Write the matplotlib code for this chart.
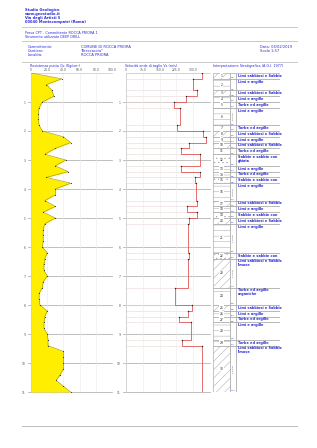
import matplotlib
matplotlib.use("Agg")
import matplotlib.pyplot as plt
from matplotlib.patches import Rectangle

# --- data ---
qc_depth = [0.0, 0.2, 0.4, 0.6, 0.8, 1.0, 1.2, 1.4, 1.6, 1.8, 2.0, 2.2, 2.4, 2.6,
            2.8, 3.0, 3.2, 3.4, 3.6, 3.8, 4.0, 4.2, 4.4, 4.6, 4.8, 5.0, 5.2, 5.4,
            5.6, 5.8, 6.0, 6.2, 6.4, 6.6, 6.8, 7.0, 7.2, 7.4, 7.6, 7.8, 8.0, 8.2,
            8.4, 8.6, 8.8, 9.0, 9.2, 9.4, 9.6, 9.8, 10.0, 10.2, 10.4, 10.6, 10.8, 11.0]
qc_values = [0, 38, 19, 26, 28, 14, 10, 9, 9, 10, 14, 40, 49, 30,
             17, 43, 30, 46, 19, 49, 30, 30, 17, 30, 15, 30, 17, 15,
             15, 15, 14, 20, 17, 16, 16, 20, 15, 14, 10, 10, 11, 20,
             17, 16, 16, 20, 21, 21, 40, 40, 40, 40, 36, 31, 40, 49]

layer_top = [0.0, 0.2, 0.6, 0.8, 1.0, 1.2, 1.8, 2.0, 2.2, 2.4, 2.6, 2.8, 3.2, 3.4, 3.6,
             3.8, 4.4, 4.6, 4.8, 5.0, 5.2, 6.2, 6.4, 7.4, 8.0, 8.2, 8.4, 8.6, 9.2, 9.4]
layer_bottom = layer_top[1:] + [11.0]
vs_values = [339, 299, 317, 268, 214, 241, 228, 344, 357, 281, 246, 330, 246, 330, 308,
             312, 317, 272, 317, 281, 277, 281, 277, 219, 295, 277, 237, 290, 250, 339]

LS = "Limi sabbiosi e Sabbie\nlimose"
LA = "Limi e argille"
TO = "Torbe ed argille\norganiche"
SG = "Sabbie e sabbie con\nghiaia"
layer_soil = [LS, LA, LS, LA, TO, LA, TO, LS, LA, LS, TO, SG, LA, TO, SG,
              LA, LS, LA, SG, LS, LA, SG, LS, TO, LS, LA, TO, LA, TO, LS]

qc_ticks = [0, 20, 40, 60, 80, 100]
qc_ticklabels = ["0", "20.0", "40.0", "60.0", "80.0", "100.0"]
vs_ticks = [0, 75, 150, 225, 300]
vs_ticklabels = ["0", "75.0", "150.0", "225.0", "300.0"]
depth_ticks = list(range(1, 12))

header_lines = ["Studio Geologico", "www.geostudio.it", "Via degli Artisti 5",
                "00040 Montecompatri (Roma)"]

BLUE = "#2b2bd6"
GRID = "#b4b4b4"
HATCH = {LS: "////", LA: "---", TO: "-", SG: "...."}

W, H = 317, 448
plt.rcParams["font.family"] = ["DejaVu Sans"]
plt.rcParams["hatch.linewidth"] = 0.3

fig = plt.figure(figsize=(W / 100, H / 100), dpi=100)
fig.patch.set_facecolor("white")

page = fig.add_axes([0, 0, 1, 1])
page.set_xlim(0, W)
page.set_ylim(H, 0)
page.axis("off")

# header
for i, line in enumerate(header_lines):
    page.text(25, 10 + 4 * i, line, fontsize=2.6, color=BLUE, fontweight="bold", va="center")
for y in (27, 41, 62):
    page.plot([22, 297], [y, y], color=GRID, lw=0.5)
page.plot([22, 297], [426, 426], color=GRID, lw=0.6)
page.text(25, 33, "Prova CPT - Committente ROCCA PRIORA 1", fontsize=2.4, color=BLUE, va="center")
page.text(25, 36.5, "Strumento utilizzato DEEP DRILL", fontsize=2.4, color=BLUE, va="center")
for i, (k, v) in enumerate([("Committente:", "COMUNE DI ROCCA PRIORA"),
                            ("Cantiere:", "\"Breccaccia\""),
                            ("Località:", "ROCCA PRIORA")]):
    page.text(28, 47 + 4 * i, k, fontsize=2.6, color=BLUE, va="center")
    page.text(81, 47 + 4 * i, v, fontsize=2.6, color=BLUE, va="center")
page.text(260, 47, "Data: 06/02/2019", fontsize=2.6, color=BLUE, va="center")
page.text(260, 51, "Scala 1:57", fontsize=2.6, color=BLUE, va="center")
page.text(30, 66, "Resistenza punta Qc (Kg/cm²)", fontsize=2.4, color=BLUE, va="center")
page.text(125, 66, "Velocità onde di taglio Vs (m/s)", fontsize=2.4, color=BLUE, va="center")
page.text(213, 66, "Interpretazione Stratigrafica (A.G.I. 1977)", fontsize=2.4, color=BLUE, va="center")


def panel(x0, x1, y0=73, y1=392):
    return fig.add_axes([x0 / W, 1 - y1 / H, (x1 - x0) / W, (y1 - y0) / H])


def style_panel(ax, xmax, ticks, labels):
    ax.set_xlim(0, xmax)
    ax.set_ylim(11, 0)
    ax.xaxis.tick_top()
    ax.set_xticks(ticks)
    ax.set_xticklabels(labels, fontsize=2.2, color="#555555")
    ax.set_yticks(depth_ticks)
    ax.set_yticklabels([str(d) for d in depth_ticks], fontsize=2.2, color="#555555")
    ax.tick_params(length=0, pad=1)
    ax.tick_params(axis="y", pad=4)
    for s in ("right", "bottom"):
        ax.spines[s].set_visible(False)
    for s in ("left", "top"):
        ax.spines[s].set_color("#c8c8c8")
        ax.spines[s].set_linewidth(0.5)
    ax.grid(axis="x", color="#ebebeb", lw=0.4)
    for d in depth_ticks:
        ax.axhline(d, xmin=-0.04, xmax=1.0, color=GRID, lw=0.6, clip_on=False, zorder=1)


# Qc panel
ax1 = panel(31, 112)
style_panel(ax1, 100, qc_ticks, qc_ticklabels)
ax1.fill_betweenx(qc_depth, 0, qc_values, color="#ffee00", zorder=2, lw=0)
ax1.plot(qc_values, qc_depth, color="#9a9400", lw=0.4, zorder=3)
ax1.plot(qc_values[1:], qc_depth[1:], "o", color="#333333", ms=0.8, mew=0, zorder=4)

# Vs panel
ax2 = panel(126, 210)
style_panel(ax2, 375, vs_ticks, vs_ticklabels)
step_x, step_y = [], []
for top, bot, v in zip(layer_top, layer_bottom, vs_values):
    step_x += [v, v]
    step_y += [top, bot]
    ax2.plot([0, v], [top, top], color="#ead6d6", lw=0.4, zorder=1)
ax2.plot(step_x, step_y, color="#e25656", lw=0.6, zorder=3)
ax2.plot(vs_values, layer_top, "o", color="#222222", ms=1.0, mew=0, zorder=4)

# stratigraphy table
ax3 = panel(213, 280)
ax3.set_xlim(0, 67)
ax3.set_ylim(11, 0)
ax3.axis("off")
for i, (top, bot, soil) in enumerate(zip(layer_top, layer_bottom, layer_soil)):
    th = bot - top
    ax3.add_patch(Rectangle((0, top), 17, th, facecolor="white", edgecolor="#9a9a9a",
                            hatch=HATCH[soil], lw=0.4))
    ax3.add_patch(Rectangle((17, top), 6, th, facecolor="white", edgecolor="#9a9a9a", lw=0.4))
    ax3.add_patch(Rectangle((23, top), 44, th, facecolor="white", edgecolor="#9a9a9a", lw=0.4))
    ax3.text(8.5, (top + bot) / 2, str(i + 1), fontsize=2.2, ha="center", va="center",
             color="#222222", bbox=dict(boxstyle="square,pad=0.15", fc="white", ec="none"))
    ax3.text(17.5, bot - 0.02, f"{bot:.1f}", fontsize=1.6, color=BLUE, va="bottom", ha="left")
    if th >= 0.6:
        ax3.text(20, (top + bot) / 2, f"{th:.2f} m", fontsize=1.6, color="#444444",
                 rotation=90, ha="center", va="center")
    desc = soil if th >= 0.4 else soil.split("\n")[0]
    ax3.text(25, top + 0.03, desc, fontsize=2.5, color=BLUE, fontweight="bold",
             va="top", ha="left", linespacing=0.9)

fig.savefig("out.png", dpi=100, facecolor="white")
